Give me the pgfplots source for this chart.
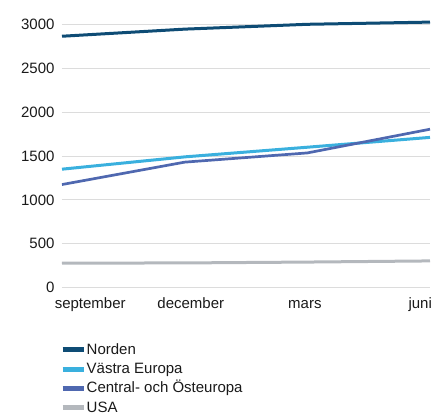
\documentclass[border=0pt]{standalone}
\usepackage{pgfplots}
\pgfplotsset{compat=1.18}
\usepackage{fontspec}
\setmainfont{Liberation Sans}
\usetikzlibrary{calc}
\definecolor{norden}{HTML}{0E4C75}
\definecolor{vastra}{HTML}{3AB0DE}
\definecolor{central}{HTML}{4F68B0}
\definecolor{usa}{HTML}{B4B8BD}
\definecolor{gridc}{HTML}{DCDCDC}
\definecolor{txt}{HTML}{1A1A1A}
\newcommand\cf{\fontsize{15bp}{17bp}\selectfont}
\begin{document}
\begin{tikzpicture}
\begin{axis}[
  scale only axis,
  width=368bp, height=263.4bp,
  xmin=0, xmax=3, ymin=0, ymax=3000,
  clip=false,
  axis line style={draw=none},
  tick style={draw=none},
  ytick={0,500,1000,1500,2000,2500,3000},
  xtick={0.23,1.05,1.98,2.92},
  xticklabels={september,december,mars,juni},
  ymajorgrids,
  grid style={color=gridc, line width=0.9bp},
  /pgf/number format/assume math mode=true,
  /pgf/number format/1000 sep={},
  ticklabel style={font=\cf, text=txt},
  yticklabel style={xshift=-4bp},
  xticklabel style={anchor=base, yshift=-21bp},
  legend style={at={(0,0)}, anchor=north west, xshift=-2bp, yshift=-55bp, draw=none, fill=none,
    font=\cf, text=txt, inner sep=0pt, row sep=5.2bp,
    nodes={text height=11bp, text depth=2bp, inner sep=0.5bp}},
  legend cell align=left,
  legend image code/.code={\draw[#1, line width=5bp] (0bp,0bp) -- (21bp,0bp);},
]
\addplot[color=norden, line width=3bp] coordinates {(0,2864) (1,2945) (2,3000) (3,3025)};
\addlegendentry{Norden}
\addplot[color=vastra, line width=3bp] coordinates {(0,1350) (1,1490) (2,1600) (3,1712)};
\addlegendentry{Västra Europa}
\addplot[color=central, line width=2.7bp] coordinates {(0,1175) (1,1430) (2,1535) (3,1805)};
\addlegendentry{Central- och Östeuropa}
\addplot[color=usa, line width=3bp] coordinates {(0,280) (1,282) (2,292) (3,305)};
\addlegendentry{USA}
\end{axis}
\pgfresetboundingbox
\path ($(current axis.south west)+(-62bp,-126.3bp)$) rectangle ($(current axis.north east)+(1bp,24.3bp)$);
\end{tikzpicture}
\end{document}
